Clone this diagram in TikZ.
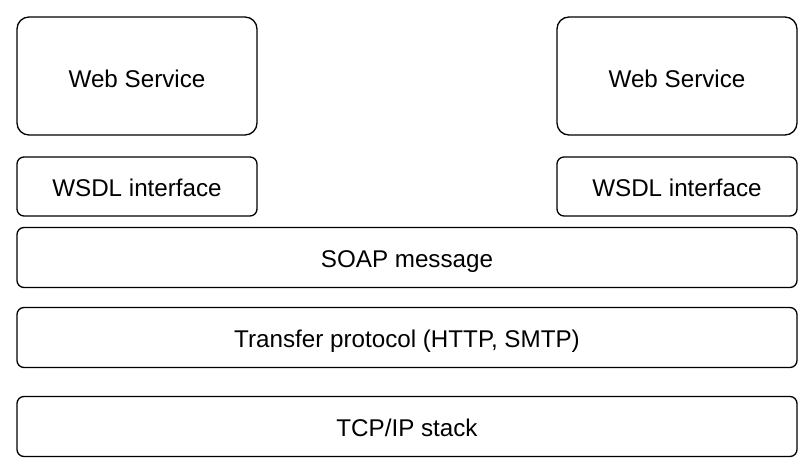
\documentclass[tikz,border=0pt]{standalone}
\usepackage{fontspec}
\setmainfont{Liberation Sans}
\begin{document}
\begin{tikzpicture}[x=1pt,y=-1pt,
  layerbox/.style={draw=black, line width=1.3pt, rounded corners=7pt, font=\fontsize{24.2}{29}\selectfont,
    text height=25.7pt, text depth=6pt},
  bigbox/.style={layerbox, rounded corners=12pt, text height=28.3pt}]
\useasboundingbox (0,0) rectangle (812,470);
\node[bigbox, minimum width=240pt, minimum height=118pt] (ws1) at (137,76) {Web Service};
\node[bigbox, minimum width=240pt, minimum height=118pt] (ws2) at (677,76) {Web Service};
\node[layerbox, minimum width=240pt, minimum height=59pt] (wsdl1) at (137,186.5) {WSDL interface};
\node[layerbox, minimum width=240pt, minimum height=59pt] (wsdl2) at (677,186.5) {WSDL interface};
\node[layerbox, minimum width=780pt, minimum height=60pt] (soap) at (407,257.5) {SOAP message};
\node[layerbox, minimum width=780pt, minimum height=60pt] (tp) at (407,337.5) {Transfer protocol (HTTP, SMTP)};
\node[layerbox, minimum width=780pt, minimum height=60pt] (tcp) at (407,426.5) {TCP/IP stack};
\end{tikzpicture}
\end{document}
